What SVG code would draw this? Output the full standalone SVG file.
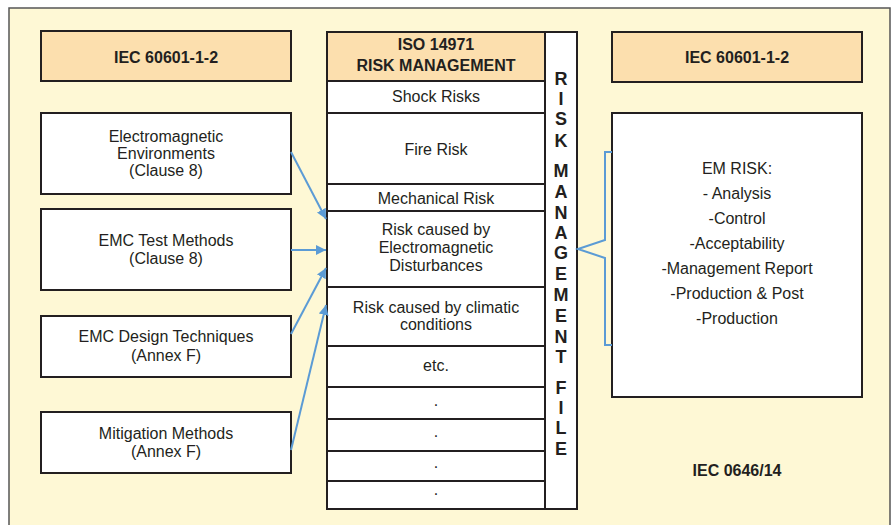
<svg xmlns="http://www.w3.org/2000/svg" width="893" height="525" viewBox="0 0 893 525">
<defs>
<style>
.box{fill:#ffffff;stroke:#231f20;stroke-width:2}
.hdr{fill:#fcdfae;stroke:#231f20;stroke-width:2}
.t{font-family:"Liberation Sans",Arial,sans-serif;font-size:16px;fill:#231f20;text-anchor:middle}
.b{font-weight:bold}
.row{stroke:#231f20;stroke-width:2}
.conn{stroke:#5b9bd5;stroke-width:2;fill:none}
.v{font-family:"Liberation Sans",Arial,sans-serif;font-size:18px;font-weight:bold;fill:#231f20;text-anchor:middle}
</style>
<marker id="ah" viewBox="0 0 10 10" refX="10" refY="5" markerWidth="10" markerHeight="10" markerUnits="userSpaceOnUse" orient="auto">
<path d="M0,0 L10,5 L0,10 z" fill="#5b9bd5"/>
</marker>
</defs>
<rect x="0" y="0" width="893" height="525" fill="#ffffff"/>
<rect x="9" y="8" width="881" height="530" fill="#fef8d5" stroke="#555555" stroke-width="1.5"/>

<g id="iec-left">
<rect class="hdr" x="41" y="31" width="250" height="50"/>
<text class="t b" x="166" y="63">IEC 60601-1-2</text>
</g>
<g id="em-env">
<rect class="box" x="41" y="113" width="250" height="81"/>
<text class="t" x="166" y="142">Electromagnetic</text>
<text class="t" x="166" y="159">Environments</text>
<text class="t" x="166" y="176">(Clause 8)</text>
</g>
<g id="emc-test">
<rect class="box" x="41" y="209" width="250" height="81"/>
<text class="t" x="166" y="246">EMC Test Methods</text>
<text class="t" x="166" y="264">(Clause 8)</text>
</g>
<g id="emc-design">
<rect class="box" x="41" y="316" width="250" height="61"/>
<text class="t" x="166" y="342">EMC Design Techniques</text>
<text class="t" x="166" y="361">(Annex F)</text>
</g>
<g id="mitigation">
<rect class="box" x="41" y="412" width="250" height="61"/>
<text class="t" x="166" y="439">Mitigation Methods</text>
<text class="t" x="166" y="457">(Annex F)</text>
</g>

<g id="iso-column">
<rect class="box" x="327" y="32" width="250" height="477"/>
<rect class="hdr" x="327" y="32" width="218" height="49"/>
<line class="row" x1="545" y1="32" x2="545" y2="509"/>
<text class="t b" x="436" y="50">ISO 14971</text>
<text class="t b" x="436" y="71">RISK MANAGEMENT</text>
<line class="row" x1="327" y1="113" x2="545" y2="113"/>
<line class="row" x1="327" y1="184" x2="545" y2="184"/>
<line class="row" x1="327" y1="211" x2="545" y2="211"/>
<line class="row" x1="327" y1="287" x2="545" y2="287"/>
<line class="row" x1="327" y1="346" x2="545" y2="346"/>
<line class="row" x1="327" y1="387" x2="545" y2="387"/>
<line class="row" x1="327" y1="419" x2="545" y2="419"/>
<line class="row" x1="327" y1="451" x2="545" y2="451"/>
<line class="row" x1="327" y1="481" x2="545" y2="481"/>
<text class="t" x="436" y="102">Shock Risks</text>
<text class="t" x="436" y="155">Fire Risk</text>
<text class="t" x="436" y="204">Mechanical Risk</text>
<text class="t" x="436" y="235">Risk caused by</text>
<text class="t" x="436" y="253">Electromagnetic</text>
<text class="t" x="436" y="271">Disturbances</text>
<text class="t" x="436" y="313">Risk caused by climatic</text>
<text class="t" x="436" y="330">conditions</text>
<text class="t" x="436" y="371">etc.</text>
<text class="t" x="436" y="406">.</text>
<text class="t" x="436" y="437">.</text>
<text class="t" x="436" y="468">.</text>
<text class="t" x="436" y="495">.</text>
<text class="v" x="561" y="85">R</text>
<text class="v" x="561" y="105">I</text>
<text class="v" x="561" y="125">S</text>
<text class="v" x="561" y="147">K</text>
<text class="v" x="561" y="177">M</text>
<text class="v" x="561" y="198">A</text>
<text class="v" x="561" y="219">N</text>
<text class="v" x="561" y="239">A</text>
<text class="v" x="561" y="259">G</text>
<text class="v" x="561" y="280">E</text>
<text class="v" x="561" y="301">M</text>
<text class="v" x="561" y="322">E</text>
<text class="v" x="561" y="343">N</text>
<text class="v" x="561" y="363">T</text>
<text class="v" x="561" y="394">F</text>
<text class="v" x="561" y="414">I</text>
<text class="v" x="561" y="434">L</text>
<text class="v" x="561" y="455">E</text>
</g>

<g id="iec-right">
<rect class="hdr" x="612" y="32" width="250" height="50"/>
<text class="t b" x="737" y="63">IEC 60601-1-2</text>
</g>
<g id="em-risk">
<rect class="box" x="612" y="113" width="250" height="284"/>
<text class="t" x="737" y="174">EM RISK:</text>
<text class="t" x="737" y="199">- Analysis</text>
<text class="t" x="737" y="224">-Control</text>
<text class="t" x="737" y="249">-Acceptability</text>
<text class="t" x="737" y="274">-Management Report</text>
<text class="t" x="737" y="299">-Production &amp; Post</text>
<text class="t" x="737" y="324">-Production</text>
</g>
<g id="label">
<text class="t b" x="737" y="476">IEC 0646/14</text>
</g>

<g id="connectors">
<line class="conn" x1="291" y1="152" x2="326" y2="219" marker-end="url(#ah)"/>
<line class="conn" x1="291" y1="250" x2="326" y2="250" marker-end="url(#ah)"/>
<line class="conn" x1="291" y1="334" x2="326" y2="268" marker-end="url(#ah)"/>
<line class="conn" x1="291" y1="450" x2="326" y2="305" marker-end="url(#ah)"/>
<path class="conn" d="M612,152 H605 V240 L578,249 L605,258 V345 H612"/>
</g>
</svg>
